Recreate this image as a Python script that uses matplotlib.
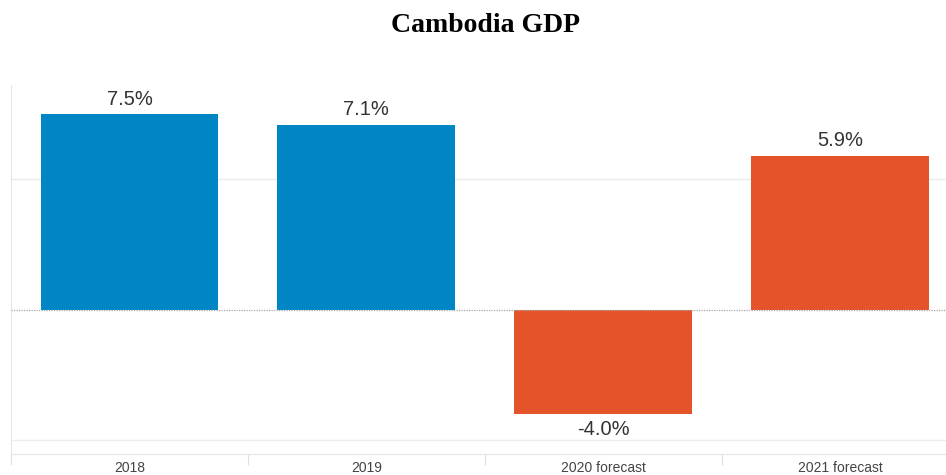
import matplotlib.pyplot as plt
import numpy as np

# GDP growth, percent
categories = ["2018", "2019", "2020 forecast", "2021 forecast"]
growth = [7.5, 7.1, -4.0, 5.9]
bar_colors = ["#0086c4", "#0086c4", "#e5532a", "#e5532a"]

W, H = 946, 475
fig = plt.figure(figsize=(W / 100, H / 100), dpi=100)

# plot area runs a little past the right edge of the figure
left, right, top, bottom = 11, 958.5, 85, 454
ax = fig.add_axes([left / W, (H - bottom) / H, (right - left) / W, (bottom - top) / H])

x = np.arange(len(categories))
bars = ax.bar(x, growth, width=0.75, color=bar_colors, zorder=3)

ax.set_xlim(-0.5, 3.5)
ax.set_ylim(-5.52, 8.62)

# light grid lines and dotted zero line
for g in (-5, 5):
    ax.axhline(g, color="#ececec", lw=1, zorder=1)
ax.axhline(0, color="#a8a8a8", lw=0.9, ls=(0, (1, 1)), zorder=4)

for s in ("top", "right"):
    ax.spines[s].set_visible(False)
ax.spines["left"].set_color("#e6e6e6")
ax.spines["bottom"].set_color("#e6e6e6")

ax.set_yticks([])
ax.set_xticks(x)
ax.set_xticklabels(categories, fontsize=10, color="#444444", family="Liberation Sans")
ax.tick_params(axis="x", which="major", length=0, pad=5)
ax.set_xticks(np.arange(-0.5, 4.0, 1.0), minor=True)
ax.tick_params(axis="x", which="minor", length=8, color="#e0e0e0", width=0.8)

# value labels above / below each bar
for xi, v in zip(x, growth):
    if v >= 0:
        ax.annotate(f"{v:.1f}%", (xi, v), xytext=(0, 4), textcoords="offset points",
                    ha="center", va="bottom", fontsize=14.5, color="#333333",
                    family="Liberation Sans")
    else:
        ax.annotate(f"{v:.1f}%", (xi, v), xytext=(0, -4), textcoords="offset points",
                    ha="center", va="top", fontsize=14.5, color="#333333",
                    family="Liberation Sans")

fig.text(485 / W, 1 - 25 / H, "Cambodia GDP", ha="center", va="center",
         fontsize=20, fontweight="bold", family="Liberation Serif", color="#000000")

fig.savefig("out.png", dpi=100)
